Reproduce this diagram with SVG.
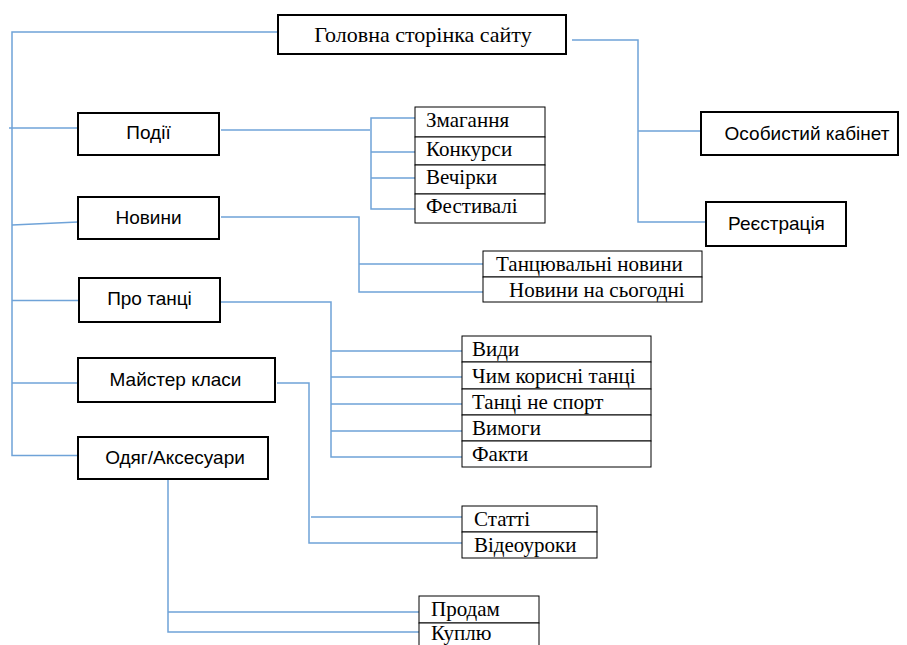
<svg xmlns="http://www.w3.org/2000/svg" width="907" height="645" viewBox="0 0 907 645">
<style>
.box{fill:#fff;stroke:#000;stroke-width:2}
.cell{fill:#fff;stroke:#000;stroke-width:1}
.sans{font-family:"Liberation Sans",Arial,sans-serif;font-size:19px;fill:#000}
.serif{font-family:"Liberation Serif","Times New Roman",serif;font-size:21px;fill:#000}
.main{font-family:"Liberation Serif","Times New Roman",serif;font-size:22px;fill:#000}
.c{fill:none;stroke:#6fa3d8;stroke-width:1.5}
</style>
<rect width="907" height="645" fill="#fff"/>
<g id="connectors">
<path class="c" d="M278 32 H12 V455.5 H78"/>
<path class="c" d="M9 128 H80"/>
<path class="c" d="M12 225 L78 222"/>
<path class="c" d="M12 300.5 H82"/>
<path class="c" d="M12 383 H82"/>
<path class="c" d="M221 130 H370"/>
<path class="c" d="M416 118 H371 V209 H416 M371 152 H416 M371 178 H416"/>
<path class="c" d="M221 217 H359 V292 H484 M359 264 H484"/>
<path class="c" d="M572 40 H638 V222 H706 M638 131 H703"/>
<path class="c" d="M221 302 H331 V457 H464 M331 351 H464 M331 377 H464 M331 404 H464 M331 431 H464"/>
<path class="c" d="M277 383 H309 V543 H464 M311 517 H464"/>
<path class="c" d="M168 479 V632 H420 M168 612 H420"/>
</g>
<g id="n-main"><rect class="box" x="278" y="15" width="288" height="39"/><text class="main" x="423" y="42" text-anchor="middle">Головна сторінка сайту</text></g>
<g id="n-podii"><rect class="box" x="78" y="113" width="141" height="42"/><text class="sans" x="148.5" y="139" text-anchor="middle">Події</text></g>
<g id="n-novyny"><rect class="box" x="78" y="197" width="141" height="42"/><text class="sans" x="148.5" y="224" text-anchor="middle">Новини</text></g>
<g id="n-pro"><rect class="box" x="79" y="278" width="141" height="44"/><text class="sans" x="149.5" y="305" text-anchor="middle">Про танці</text></g>
<g id="n-majster"><rect class="box" x="78" y="358" width="197" height="44"/><text class="sans" x="175.5" y="386" text-anchor="middle">Майстер класи</text></g>
<g id="n-odyag"><rect class="box" x="78" y="437" width="190" height="42"/><text class="sans" x="175" y="464" text-anchor="middle">Одяг/Аксесуари</text></g>
<g id="n-kabinet"><rect class="box" x="701" y="112" width="197" height="43"/><text class="sans" x="807" y="140" text-anchor="middle">Особистий кабінет</text></g>
<g id="n-reg"><rect class="box" x="706" y="202" width="140" height="44"/><text class="sans" x="776.5" y="230" text-anchor="middle">Реєстрація</text></g>
<g id="t-podii">
<rect class="cell" x="415" y="107" width="130" height="30"/><rect class="cell" x="415" y="137" width="130" height="28"/><rect class="cell" x="415" y="165" width="130" height="29"/><rect class="cell" x="415" y="194" width="130" height="29"/>
<text class="serif" x="426" y="127">Змагання</text><text class="serif" x="426" y="156">Конкурси</text><text class="serif" x="426" y="184">Вечірки</text><text class="serif" x="426" y="213">Фестивалі</text>
</g>
<g id="t-novyny">
<rect class="cell" x="483" y="251" width="219" height="26"/><rect class="cell" x="483" y="277" width="219" height="25"/>
<text class="serif" x="496" y="271">Танцювальні новини</text><text class="serif" x="509" y="297">Новини на сьогодні</text>
</g>
<g id="t-pro">
<rect class="cell" x="462" y="336" width="189" height="26"/><rect class="cell" x="462" y="362" width="189" height="27"/><rect class="cell" x="462" y="389" width="189" height="26"/><rect class="cell" x="462" y="415" width="189" height="26"/><rect class="cell" x="462" y="441" width="189" height="26"/>
<text class="serif" x="472" y="356">Види</text><text class="serif" x="472" y="383">Чим корисні танці</text><text class="serif" x="472" y="409">Танці не спорт</text><text class="serif" x="472" y="435">Вимоги</text><text class="serif" x="472" y="461">Факти</text>
</g>
<g id="t-majster">
<rect class="cell" x="462" y="506" width="135" height="26"/><rect class="cell" x="462" y="532" width="135" height="26"/>
<text class="serif" x="474" y="526">Статті</text><text class="serif" x="474" y="552">Відеоуроки</text>
</g>
<g id="t-odyag">
<rect class="cell" x="419" y="596" width="120" height="27"/><rect class="cell" x="419" y="623" width="120" height="30"/>
<text class="serif" x="431" y="616">Продам</text><text class="serif" x="431" y="640">Куплю</text>
</g>
</svg>
